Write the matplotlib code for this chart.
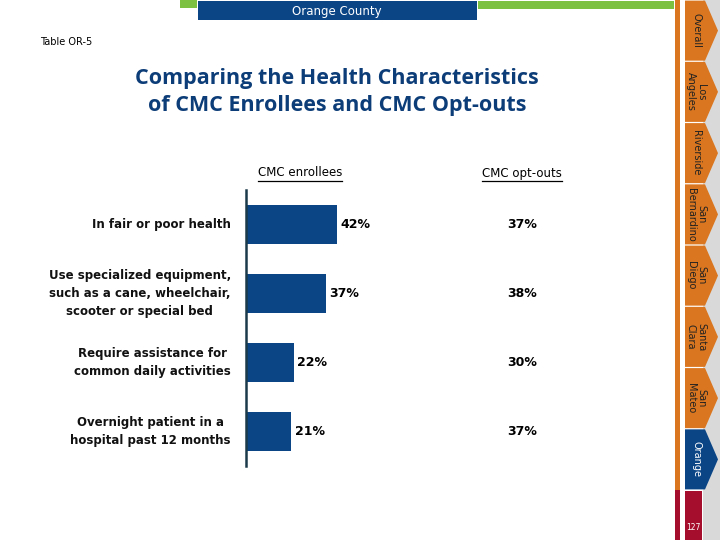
import matplotlib
matplotlib.use("Agg")
import matplotlib.pyplot as plt
from matplotlib.patches import Rectangle, Polygon
from matplotlib.lines import Line2D

# Datos
categories = [
    "In fair or poor health",
    "Use specialized equipment,\nsuch as a cane, wheelchair,\nscooter or special bed",
    "Require assistance for\ncommon daily activities",
    "Overnight patient in a\nhospital past 12 months",
]
enrollees = [42, 37, 22, 21]
opt_outs = [37, 38, 30, 37]
tabs = ["Overall", "Los\nAngeles", "Riverside", "San\nBernardino", "San\nDiego",
        "Santa\nClara", "San\nMateo", "Orange"]
active_tab = "Orange"
page_number = "127"

NAVY = "#0b4586"
ORANGE = "#d9761f"
GREEN = "#7dc142"
RED = "#a50f2d"
GREY = "#d9d9d9"
TITLE_BLUE = "#0d3d78"

W, H = 720, 540
fig = plt.figure(figsize=(7.2, 5.4), dpi=100)
fig.patch.set_facecolor("white")

# capa de decoracion en pixeles
deco = fig.add_axes([0, 0, 1, 1])
deco.set_xlim(0, W)
deco.set_ylim(H, 0)
deco.axis("off")

# cabecera
deco.add_patch(Rectangle((180, 0), 17, 8, color=GREEN, lw=0))
deco.add_patch(Rectangle((198, 1), 279, 19, color=NAVY, lw=0))
deco.add_patch(Rectangle((478, 1), 196, 8, color=GREEN, lw=0))
deco.text(337, 11, "Orange County", color="white", fontsize=8.5, ha="center", va="center")

# barra lateral
deco.add_patch(Rectangle((703, 0), 17, H, color=GREY, lw=0))
deco.add_patch(Rectangle((675, 0), 5, 490, color=ORANGE, lw=0))
deco.add_patch(Rectangle((675, 490), 5, 50, color=RED, lw=0))
tab_h = 490 / len(tabs)
for i, name in enumerate(tabs):
    top = i * tab_h + 0.6
    bot = (i + 1) * tab_h - 0.6
    mid = (top + bot) / 2
    is_active = name == active_tab
    deco.add_patch(Polygon([(685, top), (705, top), (718, mid), (705, bot), (685, bot)],
                           closed=True, color=NAVY if is_active else ORANGE, lw=0))
    deco.text(696, mid, name, rotation=270, ha="center", va="center", fontsize=7,
              color="white" if is_active else "#222222", linespacing=1.0,
              multialignment="center")
deco.add_patch(Rectangle((685, 491), 17, 49, color=RED, lw=0))
deco.text(693, 528, page_number, color="white", fontsize=5.5, ha="center", va="center")

# titulos
deco.text(40, 42, "Table OR-5", fontsize=7, ha="left", va="center", color="black")
deco.text(337, 92, "Comparing the Health Characteristics\nof CMC Enrollees and CMC Opt-outs",
          fontsize=15.5, fontweight="bold", family="Open Sans", color=TITLE_BLUE,
          ha="center", va="center", linespacing=1.4)

# grafico de barras
ax_left, ax_top, ax_bot = 246, 190, 466
px_per_pct = 2.16
ax_w = 100 * px_per_pct
ax = fig.add_axes([ax_left / W, 1 - ax_bot / H, ax_w / W, (ax_bot - ax_top) / H])
ax.set_xlim(0, 100)
ax.set_ylim(len(categories) - 0.5, -0.5)
ypos = list(range(len(categories)))
ax.barh(ypos, enrollees, height=0.56, color=NAVY)
for sp in ["top", "right", "bottom"]:
    ax.spines[sp].set_visible(False)
ax.spines["left"].set_color("#1c3b4a")
ax.spines["left"].set_linewidth(1.8)
ax.set_xticks([])
ax.set_yticks([])
ax.patch.set_alpha(0)

opt_x = (522 - ax_left) / px_per_pct
for y, e, o, cat in zip(ypos, enrollees, opt_outs, categories):
    ax.text(e + 1.5, y, f"{e}%", ha="left", va="center", fontsize=9, fontweight="bold")
    ax.text(opt_x, y, f"{o}%", ha="center", va="center", fontsize=9, fontweight="bold",
            clip_on=False)
    ax.text(-7, y, cat, ha="right", va="center", fontsize=8.5, fontweight="bold",
            multialignment="center", linespacing=1.55, color="#111111", clip_on=False)

# cabeceras de columna subrayadas
h1 = deco.text(300, 173, "CMC enrollees", fontsize=8.5, ha="center", va="center")
h2 = deco.text(522, 173, "CMC opt-outs", fontsize=8.5, ha="center", va="center")
fig.canvas.draw()
r = fig.canvas.get_renderer()
for h in (h1, h2):
    bb = h.get_window_extent(r)
    x0, x1 = bb.x0, bb.x1
    deco.add_line(Line2D([x0, x1], [181, 181], color="black", lw=0.9))

fig.savefig("out.png", dpi=100)
